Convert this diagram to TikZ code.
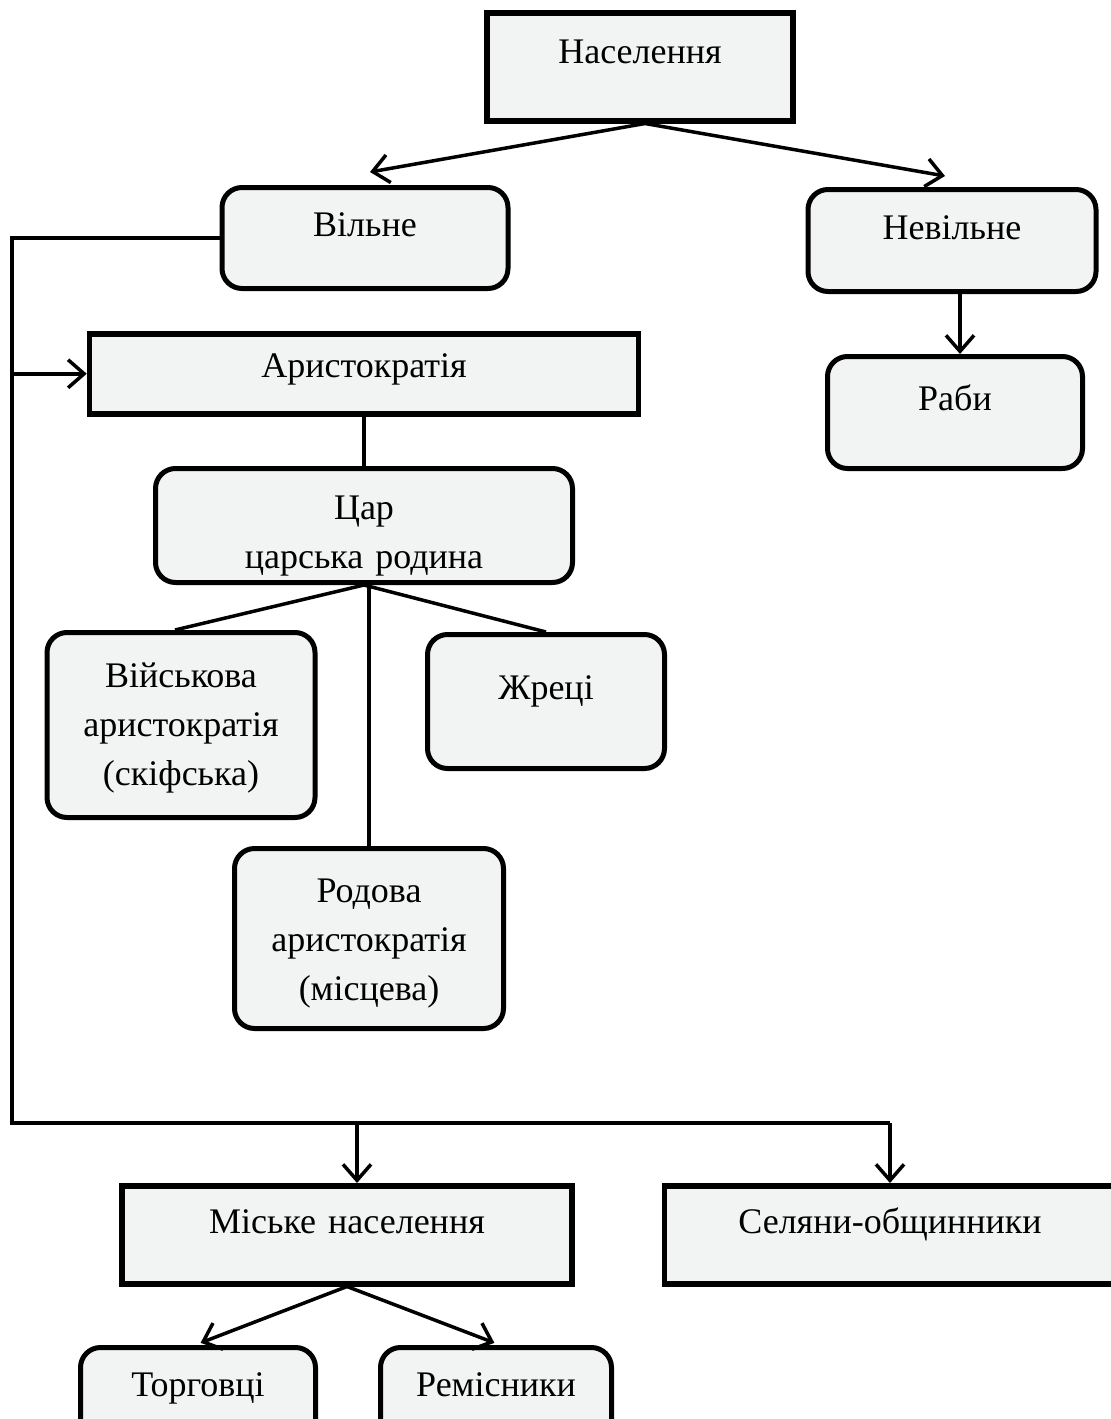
\documentclass[tikz,border=0pt]{standalone}
\usepackage{fontspec}
\setmainfont{Liberation Serif}
\usepackage{tikz}
\usetikzlibrary{arrows.meta, calc, positioning}

\definecolor{boxfill}{RGB}{242,244,243}

\tikzset{
    box/.style={draw=black, fill=boxfill, line width=5.5pt, inner sep=0pt, align=center,
        anchor=north, font=\fontsize{36}{49}\selectfont},
    rbox/.style={box, rounded corners=20pt, line width=5pt},
    link/.style={line width=3.5pt},
    arr/.style={link, -{Straight Barb[length=16pt, width=28pt, line width=3.5pt]}}
}

\begin{document}
\begin{tikzpicture}[x=1pt, y=-1pt]
    \useasboundingbox (0,0) rectangle (1111,1419);

    % Top level
    \node[box, text width=306pt, text height=51pt, text depth=57pt] (pop) at (640,10) {Населення};
    \node[rbox, text width=286pt, text height=49pt, text depth=52pt] (free) at (365,185) {Вільне};
    \node[rbox, text width=288pt, text height=50pt, text depth=52pt] (unfree) at (952,187) {Невільне};
    \node[rbox, text width=255pt, text height=54pt, text depth=58pt] (slaves) at (955,354) {Раби};

    % Aristocracy
    \node[box, text width=549pt, text height=44pt, text depth=36pt] (arist) at (364,331) {Аристократія};
    \node[rbox, text width=417pt, text height=51pt, text depth=63pt] (king) at (364,466) {Цар\\царська родина};
    \node[rbox, text width=268pt, text height=55pt, text depth=130pt] (warr) at (181,630) {Військова\\аристократія\\(скіфська)};
    \node[rbox, text width=237pt, text height=65pt, text depth=69pt] (priests) at (546,632) {Жреці};
    \node[rbox, text width=269pt, text height=54pt, text depth=126pt] (clan) at (369,846) {Родова\\аристократія\\(місцева)};

    % Commoners
    \node[box, text width=450pt, text height=48pt, text depth=50pt] (town) at (347,1183) {Міське населення};
    \node[box, text width=451pt, text height=48pt, text depth=50pt] (vill) at (890,1183) {Селяни-общинники};
    \node[rbox, text width=235pt, text height=49pt, text depth=56pt] (trad) at (198,1345) {Торговці};
    \node[rbox, text width=231pt, text height=49pt, text depth=56pt] (craft) at (496,1345) {Ремісники};

    % Bus line on the left
    \coordinate (bus_l) at (12,1123);
    \coordinate (bus_m) at (357,1123);
    \coordinate (bus_r) at (890,1123);

    % Connections
    \draw[arr] ($(pop.south)+(5,0)$) -- ($(free.north)+(5,-13)$);
    \draw[arr] ($(pop.south)+(5,0)$) -- ($(unfree.north)+(-7,-11)$);
    \draw[arr] ($(unfree.south)+(8,0)$) -- ($(slaves.north)+(5,0)$);

    \draw[link] (free.west) -| (bus_l) -- (bus_r);
    \draw[arr] (bus_l |- arist.west) -- (arist.west);
    \draw[link] (arist.south) -- (king.north);

    \draw[link] (king.south) -- ($(warr.north)+(-6,0)$);
    \draw[link] (king.south) -- (priests.north);
    \draw[link] (clan.north |- king.south) -- (clan.north);

    \draw[arr] (bus_m) -- (bus_m |- town.north);
    \draw[arr] (bus_r) -- (bus_r |- vill.north);

    \draw[arr, shorten >=6pt] (town.south) -- ($(trad.north)+(-3,0)$);
    \draw[arr, shorten >=6pt] (town.south) -- ($(craft.north)+(4,0)$);

\end{tikzpicture}
\end{document}
